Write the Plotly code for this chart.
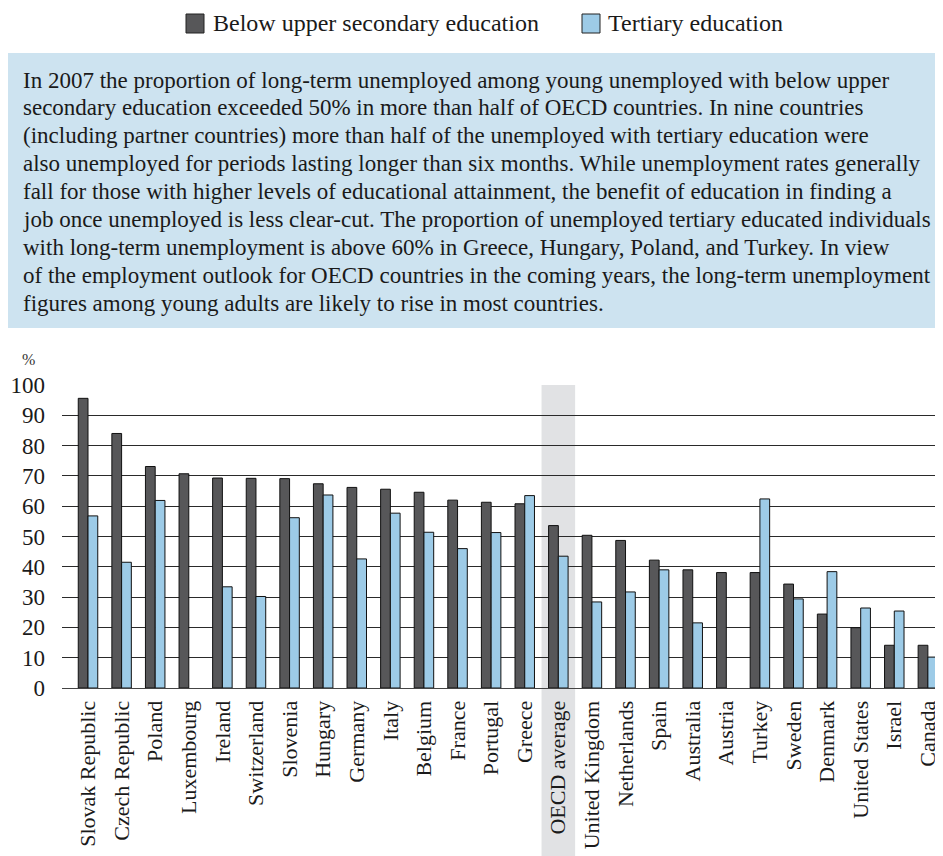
import plotly.graph_objects as go

countries = ["Slovak Republic", "Czech Republic", "Poland", "Luxembourg", "Ireland",
             "Switzerland", "Slovenia", "Hungary", "Germany", "Italy", "Belgium",
             "France", "Portugal", "Greece", "OECD average", "United Kingdom",
             "Netherlands", "Spain", "Australia", "Austria", "Turkey", "Sweden",
             "Denmark", "United States", "Israel", "Canada"]

below_upper_secondary = [95.6, 84.0, 73.1, 70.7, 69.3, 69.2, 69.1, 67.4, 66.2, 65.6,
                         64.6, 62.0, 61.3, 60.8, 53.6, 50.4, 48.7, 42.2, 39.0, 38.1,
                         38.1, 34.3, 24.4, 19.9, 14.1, 14.1]
tertiary = [56.8, 41.5, 61.9, None, 33.4, 30.2, 56.2, 63.7, 42.6, 57.7,
            51.4, 46.0, 51.3, 63.5, 43.5, 28.4, 31.7, 39.0, 21.5, None,
            62.4, 29.4, 38.4, 26.4, 25.4, 10.2]

series_names = ["Below upper secondary education", "Tertiary education"]
series_colors = ["#575759", "#9dcbe7"]
highlight = "OECD average"

note_lines = [
    "In 2007 the proportion of long-term unemployed among young unemployed with below upper",
    "secondary education exceeded 50% in more than half of OECD countries. In nine countries",
    "(including partner countries) more than half of the unemployed with tertiary education were",
    "also unemployed for periods lasting longer than six months. While unemployment rates generally",
    "fall for those with higher levels of educational attainment, the benefit of education in finding a",
    "job once unemployed is less clear-cut. The proportion of unemployed tertiary educated individuals",
    "with long-term unemployment is above 60% in Greece, Hungary, Poland, and Turkey. In view",
    "of the employment outlook for OECD countries in the coming years, the long-term unemployment",
    "figures among young adults are likely to rise in most countries.",
]

# page pixels; the browser puts the figure 8px in from the top-left corner
W, H, OFF = 943, 856, 8
L, T, B = 62, 385, 168
PW, PH = W - L, H - T - B
FONT = "Liberation Serif"


def px(x):
    return (x - L) / PW


def py(y):
    return (H - B - y) / PH


fig = go.Figure()
for name, vals, col in zip(series_names, [below_upper_secondary, tertiary], series_colors):
    fig.add_trace(go.Bar(x=countries, y=vals, name=name, marker_color=col,
                         marker_line=dict(color="#111111", width=1)))

hi = countries.index(highlight)
shapes = [
    # grey band behind the OECD average
    dict(type="rect", xref="x", yref="paper", x0=hi - 0.5, x1=hi + 0.5, y0=-0.6, y1=1,
         fillcolor="#e1e2e4", line_width=0, layer="below"),
    # note box
    dict(type="rect", xref="paper", yref="paper", x0=px(8), x1=px(944), y0=py(328), y1=py(53),
         fillcolor="#cde3f0", line_width=0, layer="below"),
]

annotations = []
for i, line in enumerate(note_lines):
    annotations.append(dict(text=line, xref="paper", yref="paper", x=px(21), y=py(80 + i * 27.9),
                            xanchor="left", yanchor="middle", showarrow=False,
                            font=dict(family=FONT, size=23, color="#1a1a1a")))

# legend drawn by hand so the swatches match the size of the text
legend_x = [(186, 211), (582, 606)]
for (sx, tx), name, col in zip(legend_x, series_names, series_colors):
    shapes.append(dict(type="rect", xref="paper", yref="paper", x0=px(sx), x1=px(sx + 18),
                       y0=py(33), y1=py(14), fillcolor=col, line=dict(color="#222222", width=1)))
    annotations.append(dict(text=name, xref="paper", yref="paper", x=px(tx), y=py(23),
                            xanchor="left", yanchor="middle", showarrow=False,
                            font=dict(family=FONT, size=24, color="#1a1a1a")))

annotations.append(dict(text="%", xref="paper", yref="paper", x=px(28), y=py(359),
                        xanchor="center", yanchor="middle", showarrow=False,
                        font=dict(family=FONT, size=16, color="#333333")))

fig.update_layout(
    width=W - OFF, height=H - OFF,
    margin=dict(l=L - OFF, r=0, t=T - OFF, b=B),
    paper_bgcolor="white", plot_bgcolor="white",
    barmode="group", bargap=0.42, bargroupgap=0,
    showlegend=False,
    shapes=shapes, annotations=annotations,
    font=dict(family=FONT, color="#1a1a1a"),
    xaxis=dict(type="category", range=[-0.774, len(countries) - 0.55],
               tickangle=-90, tickfont=dict(family=FONT, size=22, color="#1a1a1a"),
               showgrid=False, ticks="", ticklabelstandoff=3,
               showline=True, linecolor="#444444", linewidth=1),
    yaxis=dict(range=[0, 100], dtick=10, tickfont=dict(family=FONT, size=23, color="#1a1a1a"),
               showgrid=True, gridcolor="#2a2a2a", gridwidth=1, ticks="",
               ticklabelstandoff=16, zeroline=False, showline=False),
)

fig.write_html("out.html")
